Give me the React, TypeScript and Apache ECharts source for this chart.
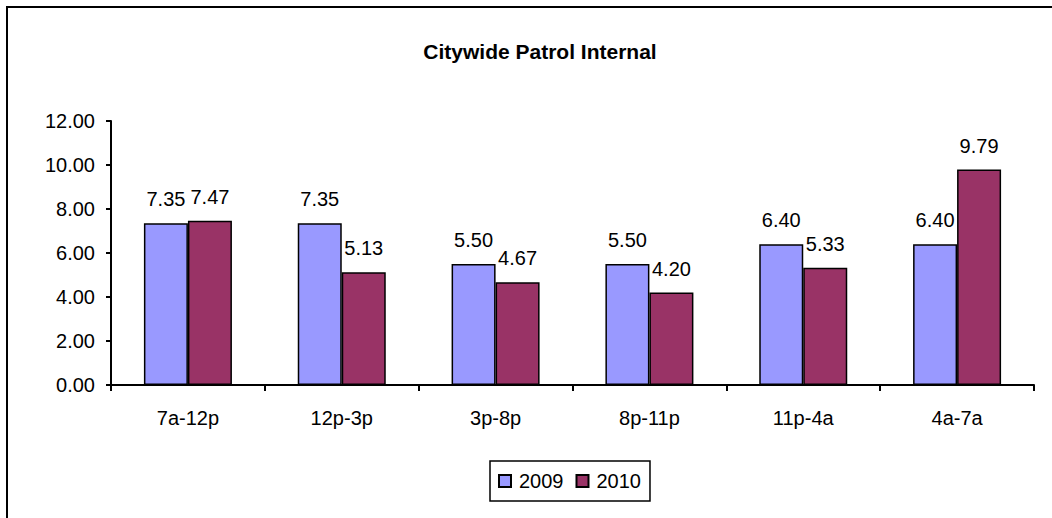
import React, { useEffect, useRef } from "react";
import * as echarts from "echarts";

const categories = ["7a-12p", "12p-3p", "3p-8p", "8p-11p", "11p-4a", "4a-7a"];
const values2009 = [7.35, 7.35, 5.5, 5.5, 6.4, 6.4];
const values2010 = [7.47, 5.13, 4.67, 4.2, 5.33, 9.79];
const seriesNames = ["2009", "2010"];
const titleText = "Citywide Patrol Internal";

const FONT = "Arial, 'Liberation Sans', sans-serif";

export default function App() {
  const ref = useRef<HTMLDivElement>(null);
  useEffect(() => {
    document.body.style.margin = "0";
    const chart = echarts.init(ref.current!, null, { renderer: "svg" });
    const labelCfg = {
      show: true,
      position: "top",
      distance: 14,
      color: "#000",
      fontSize: 20,
      fontFamily: FONT,
      formatter: (p: any) => Number(p.value).toFixed(2),
    };
    chart.setOption({
      animation: false,
      backgroundColor: "#fff",
      title: {
        text: titleText,
        left: 535,
        top: 36,
        textAlign: "center",
        textStyle: { fontSize: 21, fontWeight: "bold", color: "#000", fontFamily: FONT },
      },
      graphic: [
        {
          type: "rect",
          shape: { x: 7, y: 7, width: 1070, height: 540 },
          style: { fill: "none", stroke: "#000", lineWidth: 2 },
          silent: true,
          z: 100,
        },
      ],
      legend: {
        data: seriesNames,
        left: 490,
        top: 461,
        orient: "horizontal",
        itemWidth: 12,
        itemHeight: 12,
        itemGap: 12,
        padding: [10, 9, 10, 8],
        borderColor: "#000",
        borderWidth: 1.5,
        icon: "rect",
        textStyle: { fontSize: 20, color: "#000", fontFamily: FONT, padding: [0, 0, 0, 3] },
      },
      grid: { left: 111, right: 18, top: 121, bottom: 133, containLabel: false },
      xAxis: {
        type: "category",
        data: categories,
        axisLine: { lineStyle: { color: "#000", width: 2 } },
        axisTick: { show: true, length: 6, lineStyle: { color: "#000", width: 2 } },
        axisLabel: { fontSize: 20, color: "#000", fontFamily: FONT, margin: 23 },
      },
      yAxis: {
        type: "value",
        min: 0,
        max: 12,
        interval: 2,
        axisLine: { show: true, lineStyle: { color: "#000", width: 2 } },
        axisTick: { show: true, length: 5, lineStyle: { color: "#000", width: 2 } },
        splitLine: { show: false },
        axisLabel: {
          fontSize: 20,
          color: "#000",
          fontFamily: FONT,
          margin: 16,
          formatter: (v: number) => v.toFixed(2),
        },
      },
      series: [
        {
          name: seriesNames[0],
          type: "bar",
          data: values2009,
          barWidth: 44,
          barGap: "0%",
          itemStyle: { color: "#9999FF", borderColor: "#000", borderWidth: 1.5 },
          label: labelCfg,
        },
        {
          name: seriesNames[1],
          type: "bar",
          data: values2010,
          barWidth: 44,
          barGap: "0%",
          itemStyle: { color: "#993366", borderColor: "#000", borderWidth: 1.5 },
          label: labelCfg,
        },
      ],
    });
    return () => chart.dispose();
  }, []);
  return <div ref={ref} style={{ width: 1052, height: 518 }} />;
}
